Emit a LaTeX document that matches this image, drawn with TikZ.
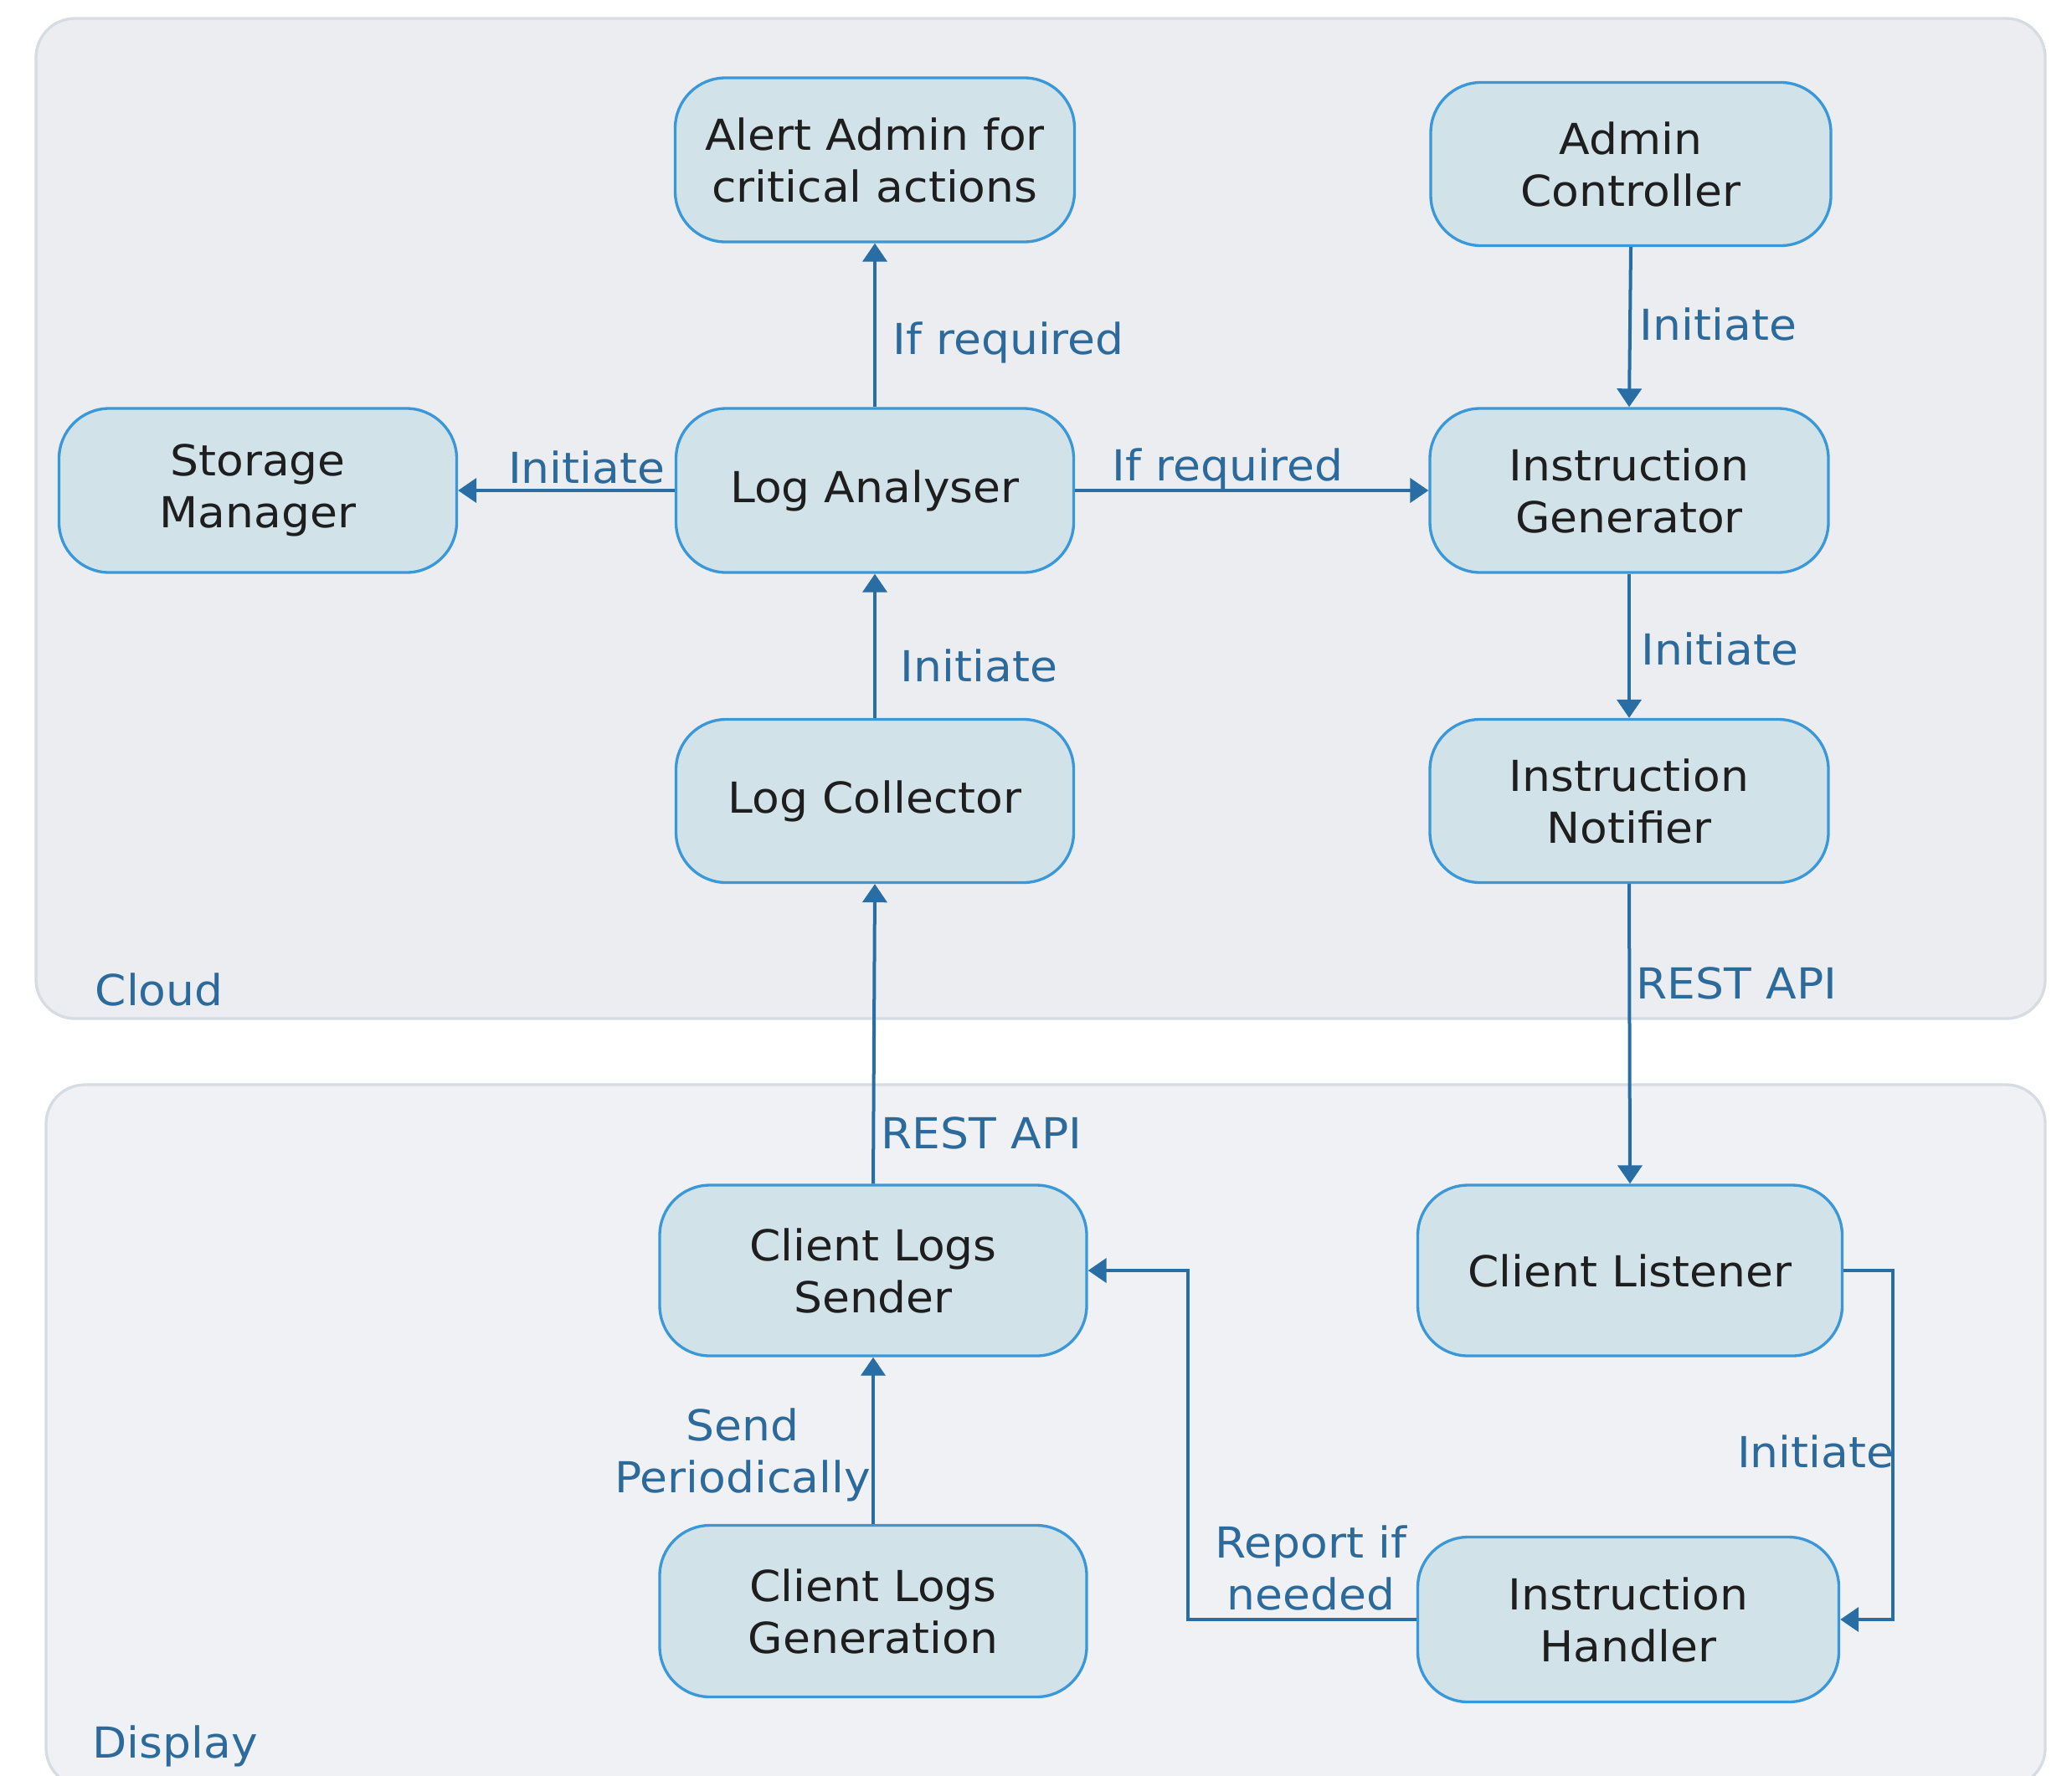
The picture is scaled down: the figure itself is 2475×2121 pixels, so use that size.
\documentclass[tikz,border=0pt]{standalone}
\usepackage{fontspec}
\setmainfont{DejaVu Sans}[FakeStretch=1.05]
\usetikzlibrary{arrows.meta}
\definecolor{linec}{RGB}{40,110,165}
\definecolor{labc}{RGB}{44,106,156}
\definecolor{nodefill}{RGB}{209,226,233}
\definecolor{nodeborder}{RGB}{58,152,216}
\definecolor{cloudfill}{RGB}{235,237,241}
\definecolor{dispfill}{RGB}{239,241,245}
\definecolor{clusterborder}{RGB}{215,220,227}
\definecolor{nodetext}{RGB}{30,30,30}
\tikzset{
  box/.style={draw=nodeborder, fill=nodefill, line width=1pt, rounded corners=18pt,
    align=center, text=nodetext, inner sep=0pt, font=\fontsize{15.3pt}{18.6pt}\selectfont},
  cluster/.style={draw=clusterborder, line width=1pt, rounded corners=14pt},
  conn/.style={draw=linec, line width=1.2pt, -{Triangle[length=6.6pt,width=8.7pt]}},
  plain/.style={draw=linec, line width=1.2pt},
  lab/.style={text=labc, inner sep=0pt, align=center, font=\fontsize{15.3pt}{18.6pt}\selectfont},
  cllab/.style={text=labc, inner sep=0pt, anchor=base west, font=\fontsize{15.3pt}{18.6pt}\selectfont}
}
\begin{document}
\begin{tikzpicture}[x=0.3pt,y=-0.3pt]
\useasboundingbox (0,0) rectangle (2475,2121);
\fill[white] (0,0) rectangle (2475,2121);
\begin{scope}
\clip (0,0) rectangle (2475,2121);
\draw[cluster, fill=cloudfill] (43,22) rectangle (2443,1217);
\draw[cluster, fill=dispfill] (55,1296) rectangle (2443,2135);
\end{scope}
\node[cllab] (cloudlab) at (113,1201) {Cloud};
\node[cllab] (displab) at (110,2100) {Display};

% nodes
\node[box, minimum width=143.1pt, minimum height=58.8pt] (alert) at (1045,191) {Alert Admin for\\critical actions};
\node[box, minimum width=143.4pt, minimum height=58.5pt] (admin) at (1948,196) {Admin\\Controller};
\node[box, minimum width=142.5pt, minimum height=58.8pt] (storage) at (308,586) {Storage\\Manager};
\node[box, minimum width=142.5pt, minimum height=58.8pt] (analyser) at (1045,586) {Log Analyser};
\node[box, minimum width=142.8pt, minimum height=58.8pt] (gen) at (1946,586) {Instruction\\Generator};
\node[box, minimum width=142.5pt, minimum height=58.5pt] (collector) at (1045,957) {Log Collector};
\node[box, minimum width=142.8pt, minimum height=58.5pt] (notifier) at (1946,957) {Instruction\\Notifier};
\node[box, minimum width=153pt, minimum height=61.2pt] (sender) at (1043,1518) {Client Logs\\Sender};
\node[box, minimum width=152.1pt, minimum height=61.2pt] (listener) at (1947,1518) {Client Listener};
\node[box, minimum width=153pt, minimum height=61.5pt] (generation) at (1043,1925) {Client Logs\\Generation};
\node[box, minimum width=150.9pt, minimum height=59.1pt] (handler) at (1945,1935) {Instruction\\Handler};

% connectors
\draw[conn] (analyser.north) -- (alert.south);
\draw[conn] (admin.south) -- (gen.north);
\draw[conn] (analyser.west) -- (storage.east);
\draw[conn] (analyser.east) -- (gen.west);
\draw[conn] (collector.north) -- (analyser.south);
\draw[conn] (gen.south) -- (notifier.north);
\draw[conn] (notifier.south) -- (listener.north);
\draw[conn] (sender.north) -- (collector.south);
\draw[conn] (generation.north) -- (sender.south);
\coordinate (rx) at (2261,1518);
\draw[conn] (listener.east) -- (rx) |- (handler.east);
\coordinate (lx) at (1419,1935);
\draw[conn] (handler.west) -- (lx) |- (sender.east);

% labels
\node[lab, anchor=base west] (l1) at (1066,423) {If required};
\node[lab, anchor=base west] (l2) at (1958,406) {Initiate};
\node[lab, anchor=base east] (l3) at (795,577) {Initiate};
\node[lab, anchor=base west] (l4) at (1328,574) {If required};
\node[lab, anchor=base west] (l5) at (1075,814) {Initiate};
\node[lab, anchor=base west] (l6) at (1960,794) {Initiate};
\node[lab, anchor=base west] (l7) at (1954,1193) {REST API};
\node[lab, anchor=base west] (l8) at (1052,1372) {REST API};
\node[lab, anchor=base] (l9) at (887,1783) {Send\\Periodically};
\node[lab, anchor=base] (l10) at (1566,1923) {Report if\\needed};
\node[lab, anchor=base east] (l11) at (2263,1753) {Initiate};
\end{tikzpicture}
\end{document}
